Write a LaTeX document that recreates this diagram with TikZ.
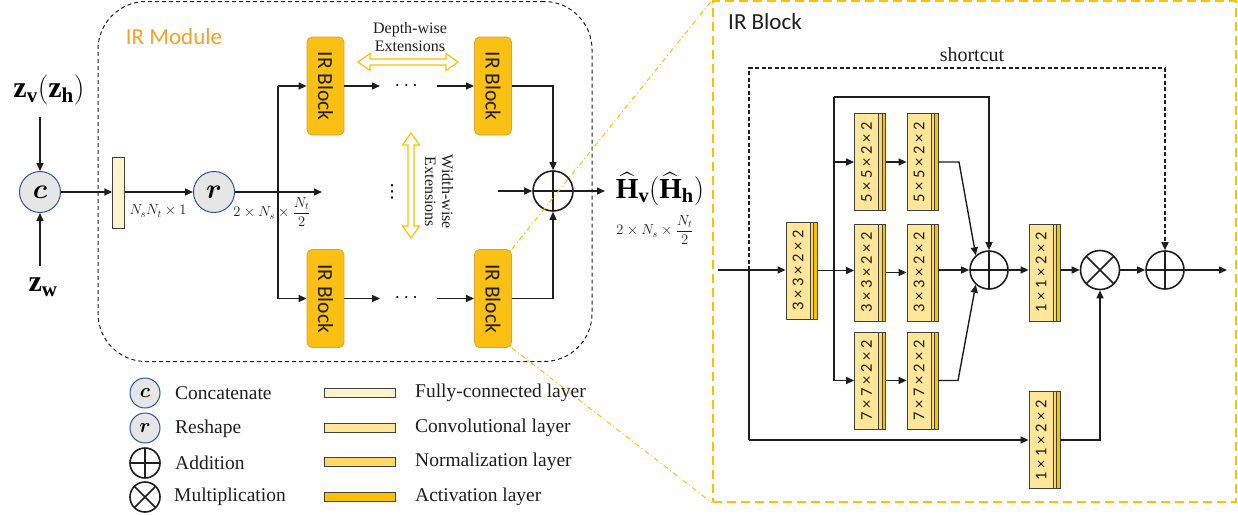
\RequirePackage{fix-cm}
\documentclass[tikz,border=0pt]{standalone}
\usepackage{amsmath}
\usepackage{fontspec}
\setmainfont{Liberation Serif}
\newfontfamily\sansf{Carlito}
\newfontfamily\dejavu{DejaVu Sans}
\usetikzlibrary{arrows.meta,calc}

\definecolor{ink}{RGB}{30,30,30}
\definecolor{gold}{RGB}{255,192,0}
\definecolor{irfill}{RGB}{251,192,20}
\definecolor{irdraw}{RGB}{215,165,50}
\definecolor{orangetxt}{RGB}{245,162,40}
\definecolor{fcfill}{RGB}{255,242,204}
\definecolor{convfill}{RGB}{255,230,153}
\definecolor{normfill}{RGB}{255,217,102}
\definecolor{actfill}{RGB}{255,192,0}
\definecolor{circfill}{RGB}{231,230,230}
\definecolor{circdraw}{RGB}{47,85,151}
\definecolor{boxdraw}{RGB}{64,64,64}

\tikzset{
  arr/.style={draw=ink, line width=1.4, -{Triangle[length=8,width=7]}},
  ln/.style={draw=ink, line width=1.4},
  irblk/.style={draw=irdraw, fill=irfill, rounded corners=5, minimum width=37, minimum height=98, line width=0.8, inner sep=0},
  irtxt/.style={font=\sansf\fontsize{21.5}{24}\selectfont, rotate=-90, text=ink, inner sep=0},
  blk/.style={draw=boxdraw, fill=convfill, minimum width=31, minimum height=97, inner sep=0, line width=0.8,
    path picture={
      \fill[normfill] ([xshift=-7]path picture bounding box.north east) rectangle ([xshift=-3.5]path picture bounding box.south east);
      \fill[actfill] ([xshift=-3.5]path picture bounding box.north east) rectangle (path picture bounding box.south east);
      \draw[boxdraw, line width=0.7] ([xshift=-7]path picture bounding box.north east) -- ([xshift=-7]path picture bounding box.south east);
      \draw[boxdraw, line width=0.7] ([xshift=-3.5]path picture bounding box.north east) -- ([xshift=-3.5]path picture bounding box.south east);
    }},
  blktxt/.style={font=\sansf\fontsize{16.5}{18}\selectfont, rotate=90, text=ink, inner sep=0},
  opc/.style={circle, draw=circdraw, fill=circfill, line width=1, minimum size=41, inner sep=0, font=\fontsize{28}{28}\selectfont},
  addc/.style={circle, draw=ink, line width=1.6, minimum size=#1, inner sep=0,
    path picture={\draw[ink, line width=1.6] (path picture bounding box.north) -- (path picture bounding box.south) (path picture bounding box.west) -- (path picture bounding box.east);}},
  mulc/.style={circle, draw=ink, line width=1.6, minimum size=#1, inner sep=0,
    path picture={\draw[ink, line width=1.6] (path picture bounding box.north west) -- (path picture bounding box.south east) (path picture bounding box.north east) -- (path picture bounding box.south west);}},
  bar/.style={draw=boxdraw, line width=0.8, minimum width=71, minimum height=9, inner sep=0},
  legtxt/.style={anchor=west, font=\fontsize{19.5}{22}\selectfont, text=ink, inner sep=0},
  mlab/.style={font=\fontsize{14.5}{16}\selectfont, text=ink, inner sep=0},
  sertxt/.style={font=\fontsize{16}{19}\selectfont, text=ink, align=center, inner sep=0},
  hollow/.style={draw=gold, line width=1.2, fill=white},
  goldlink/.style={draw=gold, line width=1, dash pattern=on 5 off 3 on 1 off 3},
}
\newcommand\blockat[4]{\node[blk] (#1) at (#2,#3) {}; \node[blktxt] (#1t) at ([xshift=-3.5]#1.center) {#4};}

\begin{document}
\begin{tikzpicture}[x=1pt,y=-1pt]
\useasboundingbox (0,0) rectangle (1238,514);

% ---------- IR module frame ----------
\node[draw=ink, line width=1, dash pattern=on 4 off 3, rounded corners=48, minimum width=494, minimum height=360, inner sep=0] (mod) at (345,181.5) {};
\node[font=\sansf\fontsize{23}{26}\selectfont, text=orangetxt, inner sep=0] (modt) at (174,37) {IR Module};

% ---------- inputs ----------
\node[font=\fontsize{30}{32}\selectfont, inner sep=0] (zv) at (49,90) {$\mathbf{z}_{\mathbf{v}}(\mathbf{z}_{\mathbf{h}})$};
\node[font=\fontsize{30}{32}\selectfont, inner sep=0] (zw) at (43,287) {$\mathbf{z}_{\mathbf{w}}$};
\node[opc] (c) at (40,192) {$\boldsymbol{c}$};
\coordinate (zvin) at (40,117);
\coordinate (zwin) at (40,266);
\draw[arr] (zvin) -- (c.north);
\draw[arr] (zwin) -- (c.south);

\node[draw=boxdraw, fill=fcfill, line width=0.8, minimum width=11.5, minimum height=71, inner sep=0] (fc) at (118.5,192.5) {};
\draw[arr] (c.east) -- (fc.west |- c.east);
\node[mlab] (fcl) at (158,211) {$N_sN_t\times 1$};
\node[opc] (r) at (214,192) {$\boldsymbol{r}$};
\draw[arr] (fc.east |- r.west) -- (r.west);
\coordinate (rout) at (322,192);
\draw[arr] (r.east) -- (rout);
\node[mlab] (rl) at (272,212) {$2\times N_s\times\dfrac{N_t}{2}$};

% ---------- IR blocks ----------
\node[irblk] (tl) at (325.5,86) {};
\node[irblk] (bl) at (325.5,298.5) {};
\node[irblk] (tr) at (493,86) {};
\node[irblk] (br) at (493,298.5) {};
\node[irtxt] (tlt) at (tl) {IR Block};
\node[irtxt] (blt) at (bl) {IR Block};
\node[irtxt] (trt) at (tr) {IR Block};
\node[irtxt] (brt) at (br) {IR Block};

\coordinate (sp1) at (278,86);
\coordinate (sp2) at (278,298.5);
\draw[ln] (sp1) -- (sp2);
\draw[arr] (sp1) -- (tl.west);
\draw[arr] (sp2) -- (bl.west);

\coordinate (d1a) at (380,86);
\coordinate (d1b) at (437,86);
\coordinate (d2a) at (380,298.5);
\coordinate (d2b) at (437,298.5);
\draw[arr] (tl.east) -- (d1a);
\draw[arr] (d1b) -- (tr.west);
\draw[arr] (bl.east) -- (d2a);
\draw[arr] (d2b) -- (br.west);
\node[font=\fontsize{20}{20}\selectfont, inner sep=0] (dots1) at (408,86) {$\cdots$};
\node[font=\fontsize{20}{20}\selectfont, inner sep=0] (dots2) at (408,298) {$\cdots$};
\node[font=\dejavu\fontsize{18}{20}\selectfont, inner sep=0] (vdots) at (392,192) {⋮};

\node[addc=40] (sum) at (553,191) {};
\draw[arr] (tr.east) -| (sum.north);
\draw[arr] (br.east) -| (sum.south);
\coordinate (midin) at (498,191);
\draw[arr] (midin) -- (sum.west);
\coordinate (hout) at (605,191);
\draw[arr] (sum.east) -- (hout);

\node[font=\fontsize{29}{32}\selectfont, inner sep=0] (hv) at (660,189) {$\widehat{\mathbf{H}}_{\mathbf{v}}(\widehat{\mathbf{H}}_{\mathbf{h}})$};
\node[mlab] (hvl) at (655,230) {$2\times N_s\times\dfrac{N_t}{2}$};

% extension arrows
\draw[hollow] (358,62) -- (370,53.5) -- (370,59) -- (446,59) -- (446,53.5) -- (458,62) -- (446,70.5) -- (446,65) -- (370,65) -- (370,70.5) -- cycle;
\draw[hollow] (411,133) -- (402.5,145) -- (408,145) -- (408,226) -- (402.5,226) -- (411,238) -- (419.5,226) -- (414,226) -- (414,145) -- (419.5,145) -- cycle;
\node[sertxt] (dw) at (410,37) {Depth-wise\\[-1pt]Extensions};
\node[sertxt, rotate=-90] (ww) at (439,192) {Width-wise\\[-2pt]Extensions};

% ---------- IR Block detail frame ----------
\node[draw=gold, line width=1.8, dash pattern=on 9 off 5, minimum width=523, minimum height=501, inner sep=0] (irbox) at (974.5,251.5) {};
\draw[goldlink] (br.north east) -- (irbox.north west);
\draw[goldlink] (br.south east) -- (irbox.south west);
\node[font=\sansf\fontsize{23}{26}\selectfont, text=ink, inner sep=0] (irt) at (765,22) {IR Block};
\node[font=\fontsize{20}{22}\selectfont, text=ink, inner sep=0] (sct) at (972,55) {shortcut};

\blockat{b0}{801.5}{270.5}{3 × 3 × 2 × 2}
\blockat{b2}{870}{162}{5 × 5 × 2 × 2}
\blockat{b3}{922.5}{162}{5 × 5 × 2 × 2}
\blockat{b4}{870}{272.5}{3 × 3 × 2 × 2}
\blockat{b5}{922.5}{272.5}{3 × 3 × 2 × 2}
\blockat{b6}{870}{380.5}{7 × 7 × 2 × 2}
\blockat{b7}{922.5}{380.5}{7 × 7 × 2 × 2}
\blockat{b8}{1044.5}{272.5}{1 × 1 × 2 × 2}
\blockat{b9}{1044.5}{440}{1 × 1 × 2 × 2}

\node[addc=38] (add1) at (989,270) {};
\node[mulc=39] (mul) at (1100,270) {};
\node[addc=38] (add2) at (1165,270) {};

\coordinate (in) at (718,270);
\coordinate (split) at (749,270);
\coordinate (sctop1) at (749,68);
\coordinate (sctop2) at (1165,68);
\coordinate (lowc) at (749,440);
\coordinate (out) at (1227,270);
\draw[arr] (in) -- (in -| b0.west);
\draw[ink, line width=1.4, dash pattern=on 4 off 2.5, -{Triangle[length=8,width=7]}] (split) -- (sctop1) -- (sctop2) -- (add2.north);
\draw[ln] (split) -- (lowc);
\draw[arr] (lowc) -- (b9.west);

\coordinate (br1) at (834,97);
\coordinate (br2) at (834,380.5);
\coordinate (br3) at (989,97);
\draw[arr] (b0.east) -- (b4.west |- b0.east);
\draw[ln] (br1) -- (br2);
\draw[arr] (br1) -- (br3) -- (add1.north);
\draw[arr] (br1 |- b2.west) -- (b2.west);
\draw[arr] (br2) -- (b6.west);
\draw[arr] (b2.east) -- (b3.west);
\draw[arr] (b4.east) -- (b5.west);
\draw[arr] (b6.east) -- (b7.west);
\coordinate (k1) at (959,162);
\coordinate (k2) at (958,380.5);
\draw[arr] (b3.east) -- (k1) -- (add1.132);
\draw[arr] (b5.east |- add1.west) -- (add1.west);
\draw[arr] (b7.east) -- (k2) -- (add1.228);
\draw[arr] (add1.east) -- (b8.west |- add1.east);
\draw[arr] (b8.east |- mul.west) -- (mul.west);
\draw[arr] (mul.east) -- (add2.west);
\draw[arr] (add2.east) -- (out);
\draw[arr] (b9.east) -| (mul.south);

% ---------- legend ----------
\node[opc, minimum size=30, font=\fontsize{20}{20}\selectfont] (lc) at (145,393) {$\boldsymbol{c}$};
\node[opc, minimum size=30, font=\fontsize{20}{20}\selectfont] (lr) at (145,428) {$\boldsymbol{r}$};
\node[addc=30] (la) at (145,463) {};
\node[mulc=30] (lm) at (145,497) {};
\node[legtxt] (lct) at (175,393) {Concatenate};
\node[legtxt] (lrt) at (175,429) {Reshape};
\node[legtxt] (lat) at (175,463) {Addition};
\node[legtxt] (lmt) at (174,497) {Multiplication};
\node[bar, fill=fcfill] (lb1) at (359.5,393) {};
\node[bar, fill=convfill] (lb2) at (359.5,428) {};
\node[bar, fill=normfill] (lb3) at (359.5,462) {};
\node[bar, fill=actfill] (lb4) at (359.5,497) {};
\node[legtxt] (lb1t) at (415,393) {Fully-connected layer};
\node[legtxt] (lb2t) at (415,428) {Convolutional layer};
\node[legtxt] (lb3t) at (415,462) {Normalization layer};
\node[legtxt] (lb4t) at (415,497) {Activation layer};
\end{tikzpicture}
\end{document}
